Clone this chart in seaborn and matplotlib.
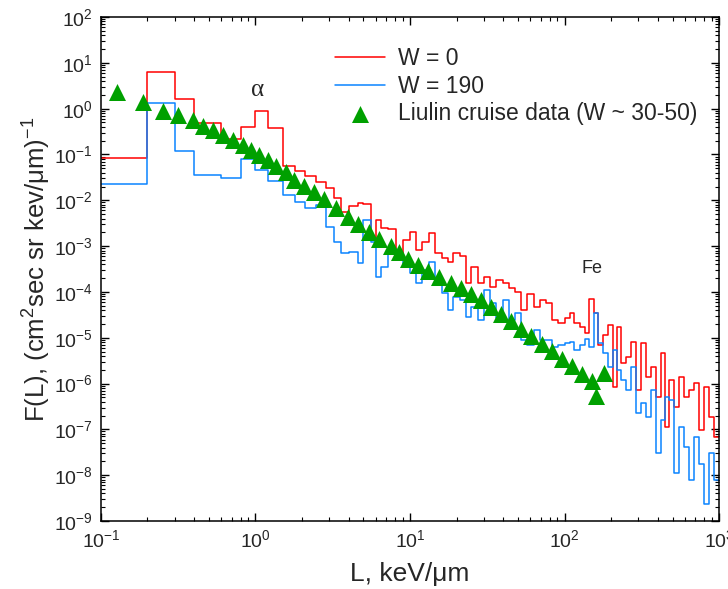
import numpy as np
import pandas as pd
import seaborn as sns
import matplotlib.pyplot as plt
from matplotlib.ticker import LogLocator, NullFormatter

# bin edges of the LET spectra, keV/um
let_edges = [0.1, 0.2, 0.3, 0.4, 0.6, 0.8, 1.0, 1.2, 1.5, 1.8,
             2.1, 2.45, 2.85, 3.2, 3.6, 4.0, 4.6, 5.0, 5.6, 6.0,
             6.5, 7.2, 8.1, 9.0, 10, 11, 12, 13.2, 14.5, 16,
             17.5, 19, 21, 23, 25, 27.5, 30, 33, 36, 40,
             44, 48, 52, 57, 63, 69, 76, 83, 91, 100,
             108, 116, 125, 135, 145, 154, 164, 177, 190, 205,
             218, 231, 249, 268, 289, 312, 336, 362, 390, 420,
             446, 474, 510, 550, 593, 639, 688, 742, 799, 861,
             928, 1000]

# W = 0
flux_w0 = [8.5e-2, 6.3, 1.6, 4.9e-1, 2.2e-1, 4.0e-1, 8.9e-1, 3.8e-1, 5.6e-2, 4.4e-2,
           3.4e-2, 2.5e-2, 1.9e-2, 1.1e-2, 5.5e-3, 7.5e-3, 8.7e-3, 8.3e-3, 1.35e-3, 3.7e-3,
           2.5e-3, 2.35e-3, 7.0e-4, 1.35e-3, 2.0e-3, 8.2e-4, 1.2e-3, 1.9e-3, 7.0e-4, 5.5e-4,
           4.5e-4, 7.0e-4, 6.0e-4, 1.6e-4, 3.5e-4, 1.6e-4, 2.1e-4, 1.3e-4, 1.8e-4, 1.6e-4,
           1.2e-4, 9.9e-5, 4.0e-5, 8.9e-5, 4.7e-5, 6.6e-5, 5.7e-5, 2.4e-5, 2.1e-5,
           2.7e-5, 3.4e-5, 2.1e-5, 1.7e-5, 1.3e-5, 7.0e-5, 3.4e-5, 6.9e-6, 1.14e-5, 1.9e-5,
           8.3e-7, 1.7e-5, 2.8e-6, 3.8e-6, 8.0e-6, 7.2e-7, 7.6e-6, 1.38e-6, 2.3e-6, 5.0e-7,
           4.6e-6, 1.12e-7, 1.19e-6, 3.1e-7, 1.38e-6, 5.0e-7, 7.2e-7, 1.02e-6, 9.6e-8, 8.3e-7,
           1.85e-7, 6.8e-8]

# W = 190
flux_w190 = [2.26e-2, 1.32, 1.19e-1, 3.55e-2, 3.05e-2, 7.9e-2, 4.6e-2, 2.6e-2, 1.3e-2, 9.1e-3,
             6.8e-3, 7.9e-3, 2.6e-3, 1.22e-3, 7.0e-4, 7.4e-4, 4.3e-4, 3.7e-3, 1.22e-3, 2.1e-4,
             3.5e-4, 8.2e-4, 6.4e-4, 3.8e-4, 2.6e-4, 1.56e-4, 3.0e-4, 4.5e-4, 1.64e-4, 9.4e-5,
             4.0e-5, 7.7e-5, 6.6e-5, 2.8e-5, 4.7e-5, 2.4e-5, 1.1e-4, 5.7e-5, 2.7e-5, 6.6e-5,
             2.4e-5, 3.4e-5, 8.9e-6, 6.9e-6, 1.47e-5, 8.9e-6, 8.9e-6, 6.2e-6, 6.9e-6,
             7.6e-6, 8.0e-6, 5.4e-6, 6.9e-6, 9.6e-6, 6.2e-6, 3.4e-5, 7.6e-6, 4.6e-6, 2.3e-6,
             5.4e-6, 2.0e-6, 1.19e-6, 7.2e-7, 2.3e-6, 2.3e-7, 3.7e-7, 1.85e-7, 7.2e-7, 3.0e-8,
             1.6e-7, 5.0e-7, 4.3e-7, 1.1e-8, 1.12e-7, 4.1e-8, 7.8e-9, 6.8e-8, 1.8e-8, 2.4e-9,
             3.0e-8, 7.8e-9]

# Liulin cruise data
liulin_L = [0.127, 0.187, 0.253, 0.316, 0.395, 0.459, 0.533, 0.619, 0.719, 0.824,
            0.929, 1.05, 1.20, 1.35, 1.57, 1.77, 2.05, 2.38, 2.76, 3.31,
            3.96, 4.59, 5.42, 6.29, 7.53, 8.49, 9.71, 11.3, 13.1, 15.4,
            18.5, 21.4, 24.9, 28.9, 33.6, 39.0, 45.3, 52.6, 61.1, 71.0,
            82.4, 95.7, 111, 129, 150, 161, 179]
liulin_F = [2.30, 1.39, 0.89, 0.72, 0.56, 0.417, 0.341, 0.265, 0.206, 0.160,
            0.125, 0.097, 0.0755, 0.0558, 0.0413, 0.0276, 0.0204, 0.0151, 0.0106, 6.8e-3,
            4.3e-3, 3.0e-3, 2.0e-3, 1.42e-3, 1.0e-3, 7.4e-4, 5.2e-4, 3.85e-4, 2.85e-4, 2.1e-4,
            1.56e-4, 1.21e-4, 8.9e-5, 6.6e-5, 4.7e-5, 3.3e-5, 2.3e-5, 1.54e-5, 1.08e-5, 7.2e-6,
            5.1e-6, 3.4e-6, 2.4e-6, 1.6e-6, 1.13e-6, 5.3e-7, 1.67e-6]


def stairs_df(edges, vals):
    # repeat last value so steps-post closes the last bin
    return pd.DataFrame({'L': edges, 'F': list(vals) + [vals[-1]]})


sns.set_style('ticks')
plt.rcParams['font.family'] = ['Liberation Sans', 'DejaVu Sans']
plt.rcParams['mathtext.fontset'] = 'custom'
plt.rcParams['mathtext.rm'] = 'Liberation Sans'
plt.rcParams['mathtext.it'] = 'Liberation Sans:italic'
plt.rcParams['axes.unicode_minus'] = False

fig = plt.figure(figsize=(7.28, 5.89), dpi=100)
ax = fig.add_axes([0.1387, 0.1154, 0.849, 0.8557])
ax.set_xscale('log')
ax.set_yscale('log')

sns.lineplot(data=stairs_df(let_edges, flux_w0), x='L', y='F', color='#ff0000', lw=1.1,
             drawstyle='steps-post', estimator=None, sort=False, ax=ax, label='W = 0')
sns.lineplot(data=stairs_df(let_edges, flux_w190), x='L', y='F', color='#0a84ff', lw=1.1,
             drawstyle='steps-post', estimator=None, sort=False, ax=ax, label='W = 190')
sns.scatterplot(x=liulin_L, y=liulin_F, marker='^', s=150, color='#00a000', linewidth=0,
                ax=ax, label='Liulin cruise data (W ~ 30-50)', zorder=3)

ax.set_xlim(0.1, 1000)
ax.set_ylim(1e-9, 100)
ax.yaxis.set_major_locator(LogLocator(base=10, numticks=20))
ax.yaxis.set_minor_locator(LogLocator(base=10, subs=np.arange(2, 10), numticks=20))
ax.yaxis.set_minor_formatter(NullFormatter())
ax.xaxis.set_minor_locator(LogLocator(base=10, subs=np.arange(2, 10), numticks=20))
ax.xaxis.set_minor_formatter(NullFormatter())
ax.tick_params(which='both', direction='in', top=True, right=True, color='black')
ax.tick_params(which='major', length=6, width=1, labelsize=14, pad=6)
ax.tick_params(which='minor', length=3, width=0.8)
for sp in ax.spines.values():
    sp.set_linewidth(1.1)
    sp.set_color('black')

ax.text(1.03, 2.55, 'α', fontsize=18, family='Liberation Serif', ha='center', va='center')
ax.text(150, 3.3e-4, 'Fe', fontsize=13, ha='center', va='center')

ax.set_xlabel('L, keV/μm', fontsize=19, labelpad=8)
ax.set_ylabel('F(L), (cm$^{2}$sec sr kev/μm)$^{-1}$', fontsize=18.5, labelpad=0.5)

ax.legend(loc='upper left', bbox_to_anchor=(0.378, 0.940), frameon=False, fontsize=16.5,
          handlelength=2.2, handletextpad=0.55, labelspacing=0.2, borderpad=0,
          borderaxespad=0)

fig.savefig('out.png', dpi=100)
